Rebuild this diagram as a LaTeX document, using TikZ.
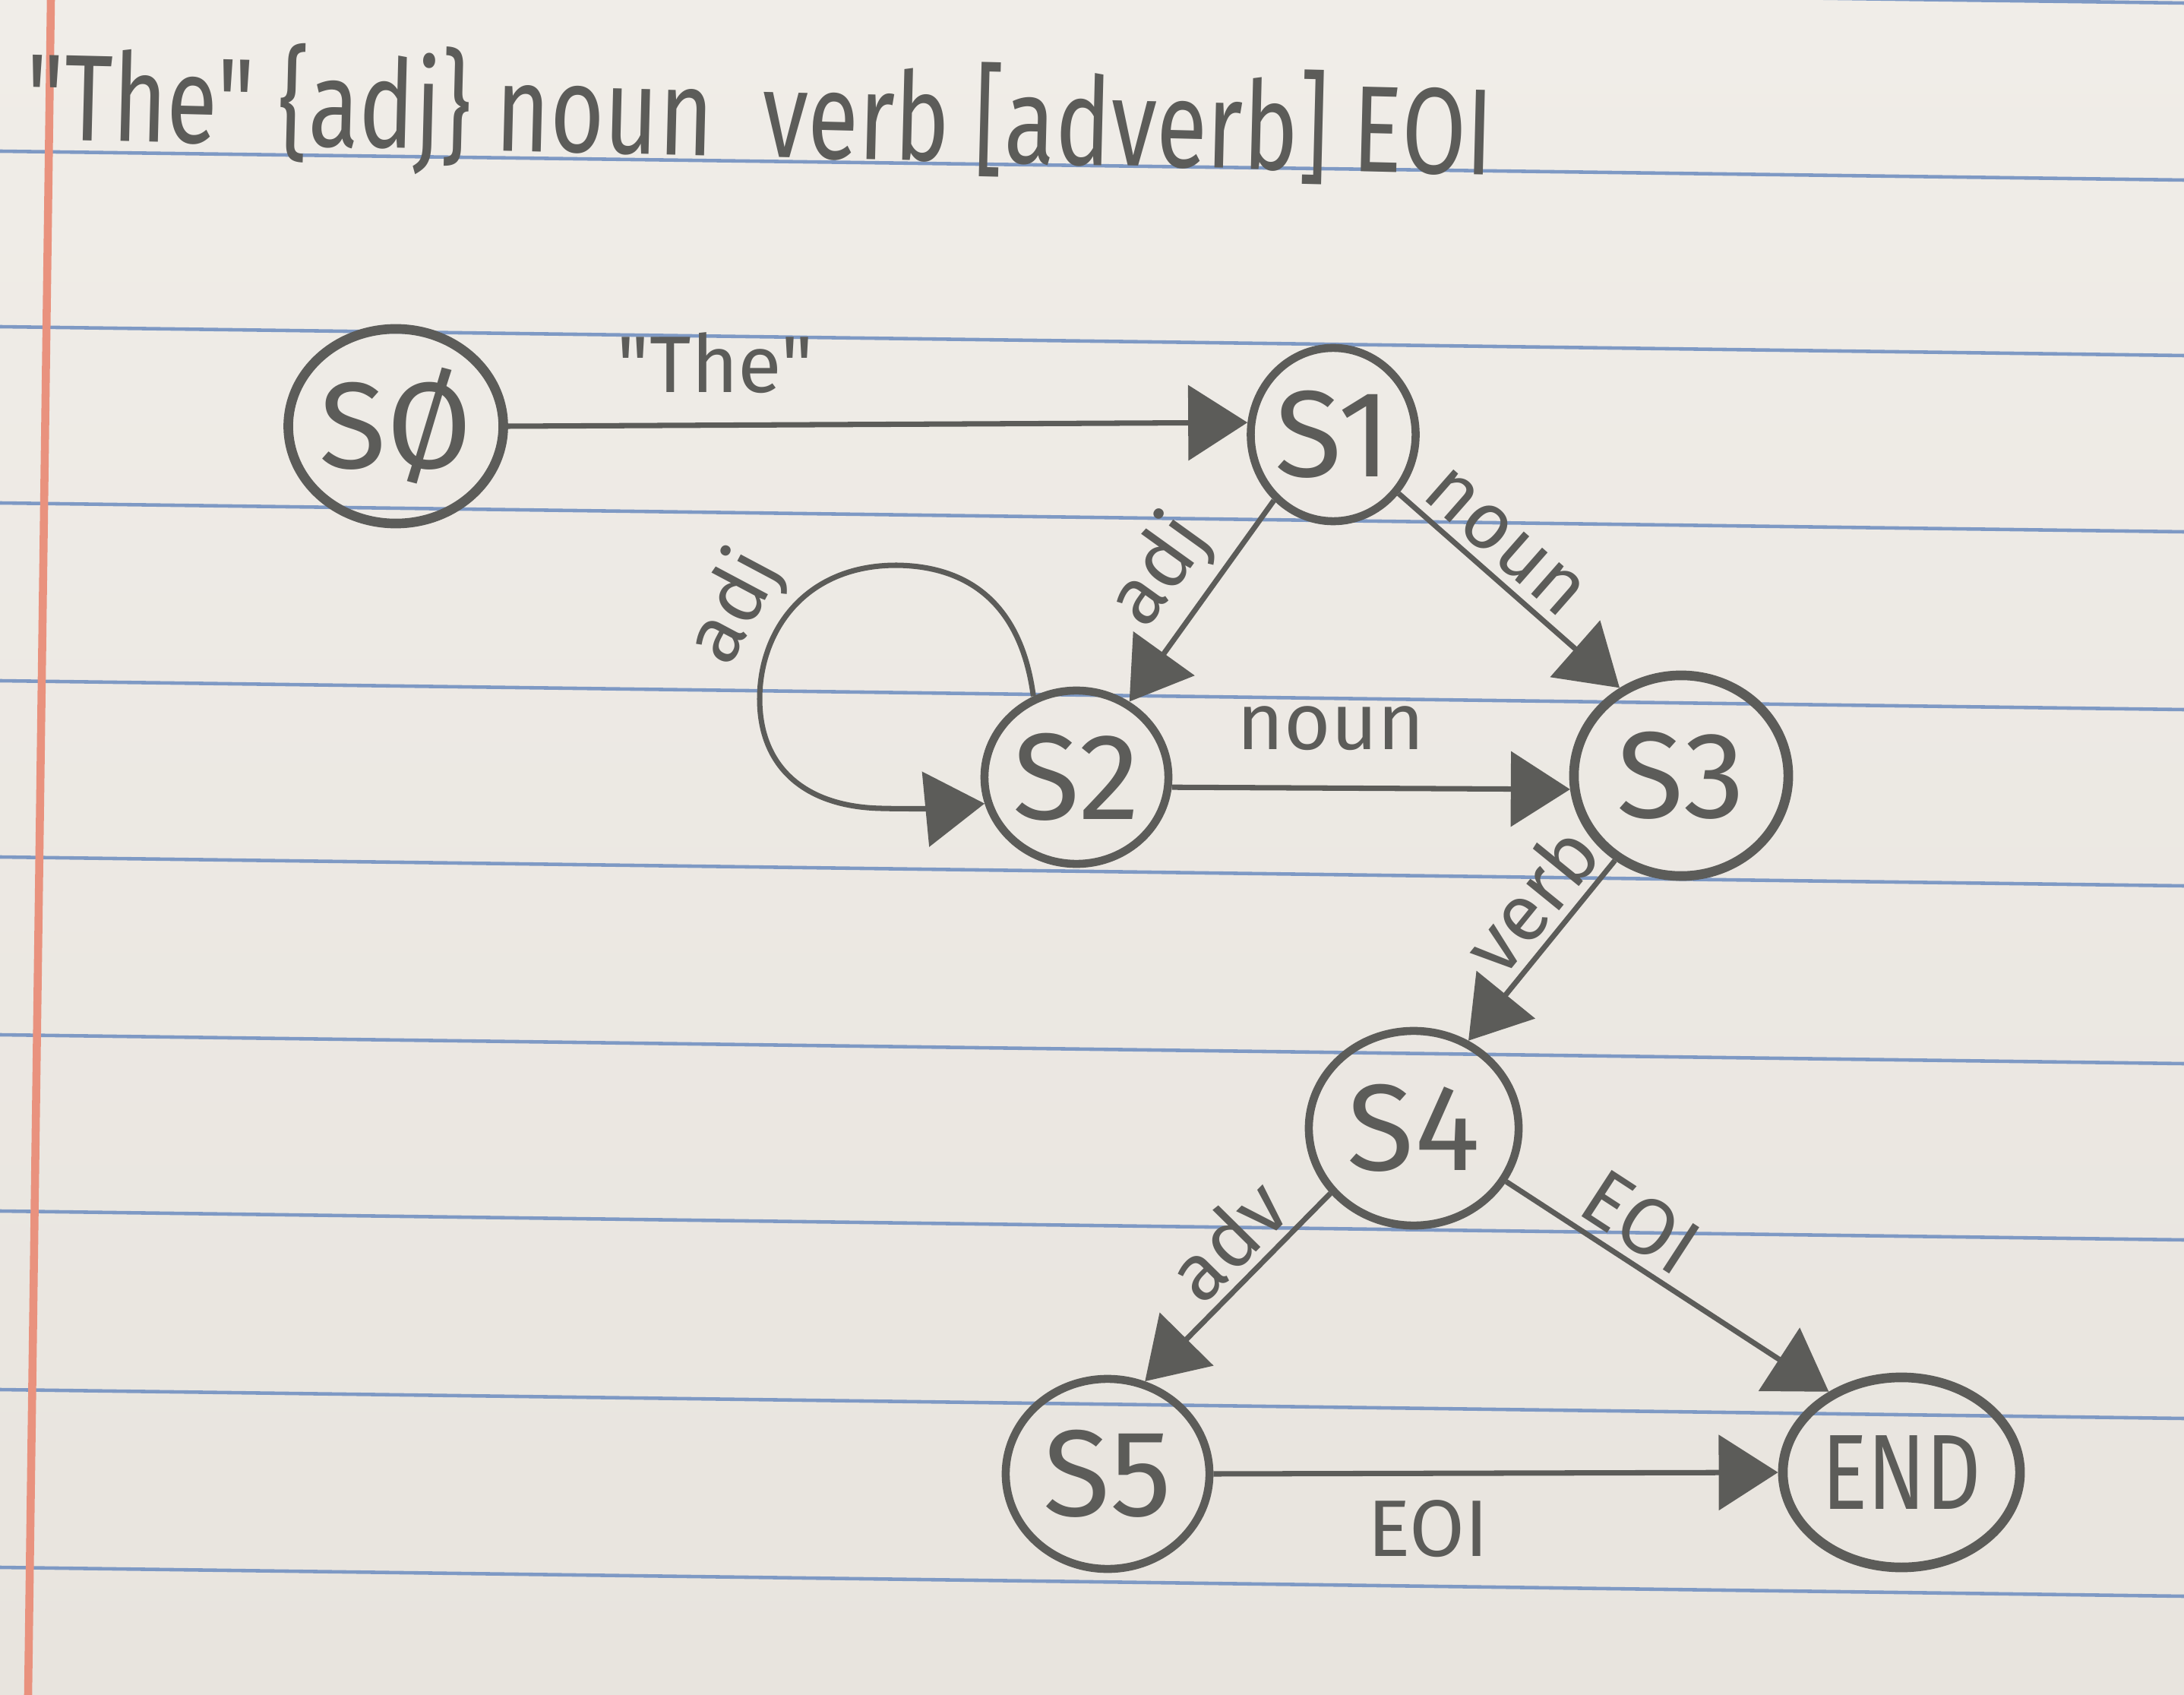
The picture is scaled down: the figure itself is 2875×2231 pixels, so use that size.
\documentclass[tikz,border=0pt]{standalone}
\usepackage{fontspec}
\newfontfamily\hand{Fira Sans}
\usetikzlibrary{arrows.meta,shapes.geometric}
\definecolor{paperA}{HTML}{F0EDE8}
\definecolor{paperB}{HTML}{E8E4DE}
\definecolor{pencil}{HTML}{5C5C59}
\definecolor{ruleblue}{HTML}{7E99C4}
\definecolor{marginred}{HTML}{E9927E}
\begin{document}
\begin{tikzpicture}[x=0.01cm,y=-0.01cm,
  state/.style={ellipse, draw=pencil, line width=3pt, text=pencil, inner sep=0pt,
                font=\hand\fontsize{46}{48}\selectfont},
  trans/.style={draw=pencil, line width=2pt, -{Triangle[length=0.78cm,width=0.98cm]}},
  lbl/.style={text=pencil, font=\hand\fontsize{30}{32}\selectfont, inner sep=3pt}]
% paper
\shade[top color=paperA, bottom color=paperB] (0,0) rectangle (2875,2231);
\useasboundingbox (0,0) rectangle (2875,2231);
\foreach \y in {-34,199,430,662,896,1128,1362,1594,1829,2063}{
  \draw[ruleblue, line width=1.3pt] (0,\y) -- (2875,\y+38);
}
\draw[marginred, line width=3pt] (67,0) -- (37,2231);
% title
\node[anchor=base west, inner sep=0pt, text=pencil, font=\hand, rotate=-1.4] (title) at (33,183)
  {\resizebox{19.3cm}{1.35cm}{"The" \{adj\} noun\ \ verb [adverb] EOI}};
% states
\node[state, line width=3.6pt, minimum width=2.42cm, minimum height=2.56cm] (S0) at (521,561) {SØ};
\node[state, minimum width=2.12cm, minimum height=2.28cm] (S1) at (1755,572) {S1};
\node[state, minimum width=2.42cm, minimum height=2.28cm] (S2) at (1417,1023) {S2};
\node[state, line width=3.6pt, minimum width=2.82cm, minimum height=2.64cm] (S3) at (2213,1021) {S3};
\node[state, minimum width=2.76cm, minimum height=2.56cm] (S4) at (1861,1485) {S4};
\node[state, minimum width=2.68cm, minimum height=2.50cm] (S5) at (1458,1940) {S5};
\node[state, line width=3.6pt, minimum width=3.12cm, minimum height=2.50cm] (END) at (2503,1938)
  {\scalebox{0.8}[1]{\fontsize{40}{42}\selectfont END}};
% transitions
\draw[trans] (S0.east) -- node[lbl, pos=0.28, above=8pt] {"The"} (S1.172);
\draw[trans] (S1.228) -- node[lbl, pos=0.5, sloped, above] {adj} (S2.55);
\draw[trans] (S1.318) -- node[lbl, pos=0.38, sloped, above] {noun} (S3.125);
\draw[trans] (S2.-6) -- node[lbl, pos=0.4, above=10pt] {noun} (S3.187);
\draw[trans] (S3.232) -- node[lbl, pos=0.36, sloped, above] {verb} (S4.58);
\draw[trans] (S4.218) -- node[lbl, pos=0.4, sloped, above] {adv} (S5.68);
\draw[trans] (S4.330) -- node[lbl, pos=0.35, sloped, above] {EOI} (END.132);
\draw[trans] (S5.east) -- node[lbl, pos=0.38, below=6pt] {EOI} (END.west);
% self loop on S2
\draw[trans] (S2.118) .. controls (1345,800) and (1280,745) .. (1180,744)
  .. controls (1060,744) and (1000,830) .. (1000,920)
  .. controls (1000,1010) and (1060,1062) .. (1160,1064)
  .. controls (1200,1065) and (1230,1064) .. (S2.196);
\node[lbl, rotate=62] (loopadj) at (968,800) {adj};
\end{tikzpicture}
\end{document}
